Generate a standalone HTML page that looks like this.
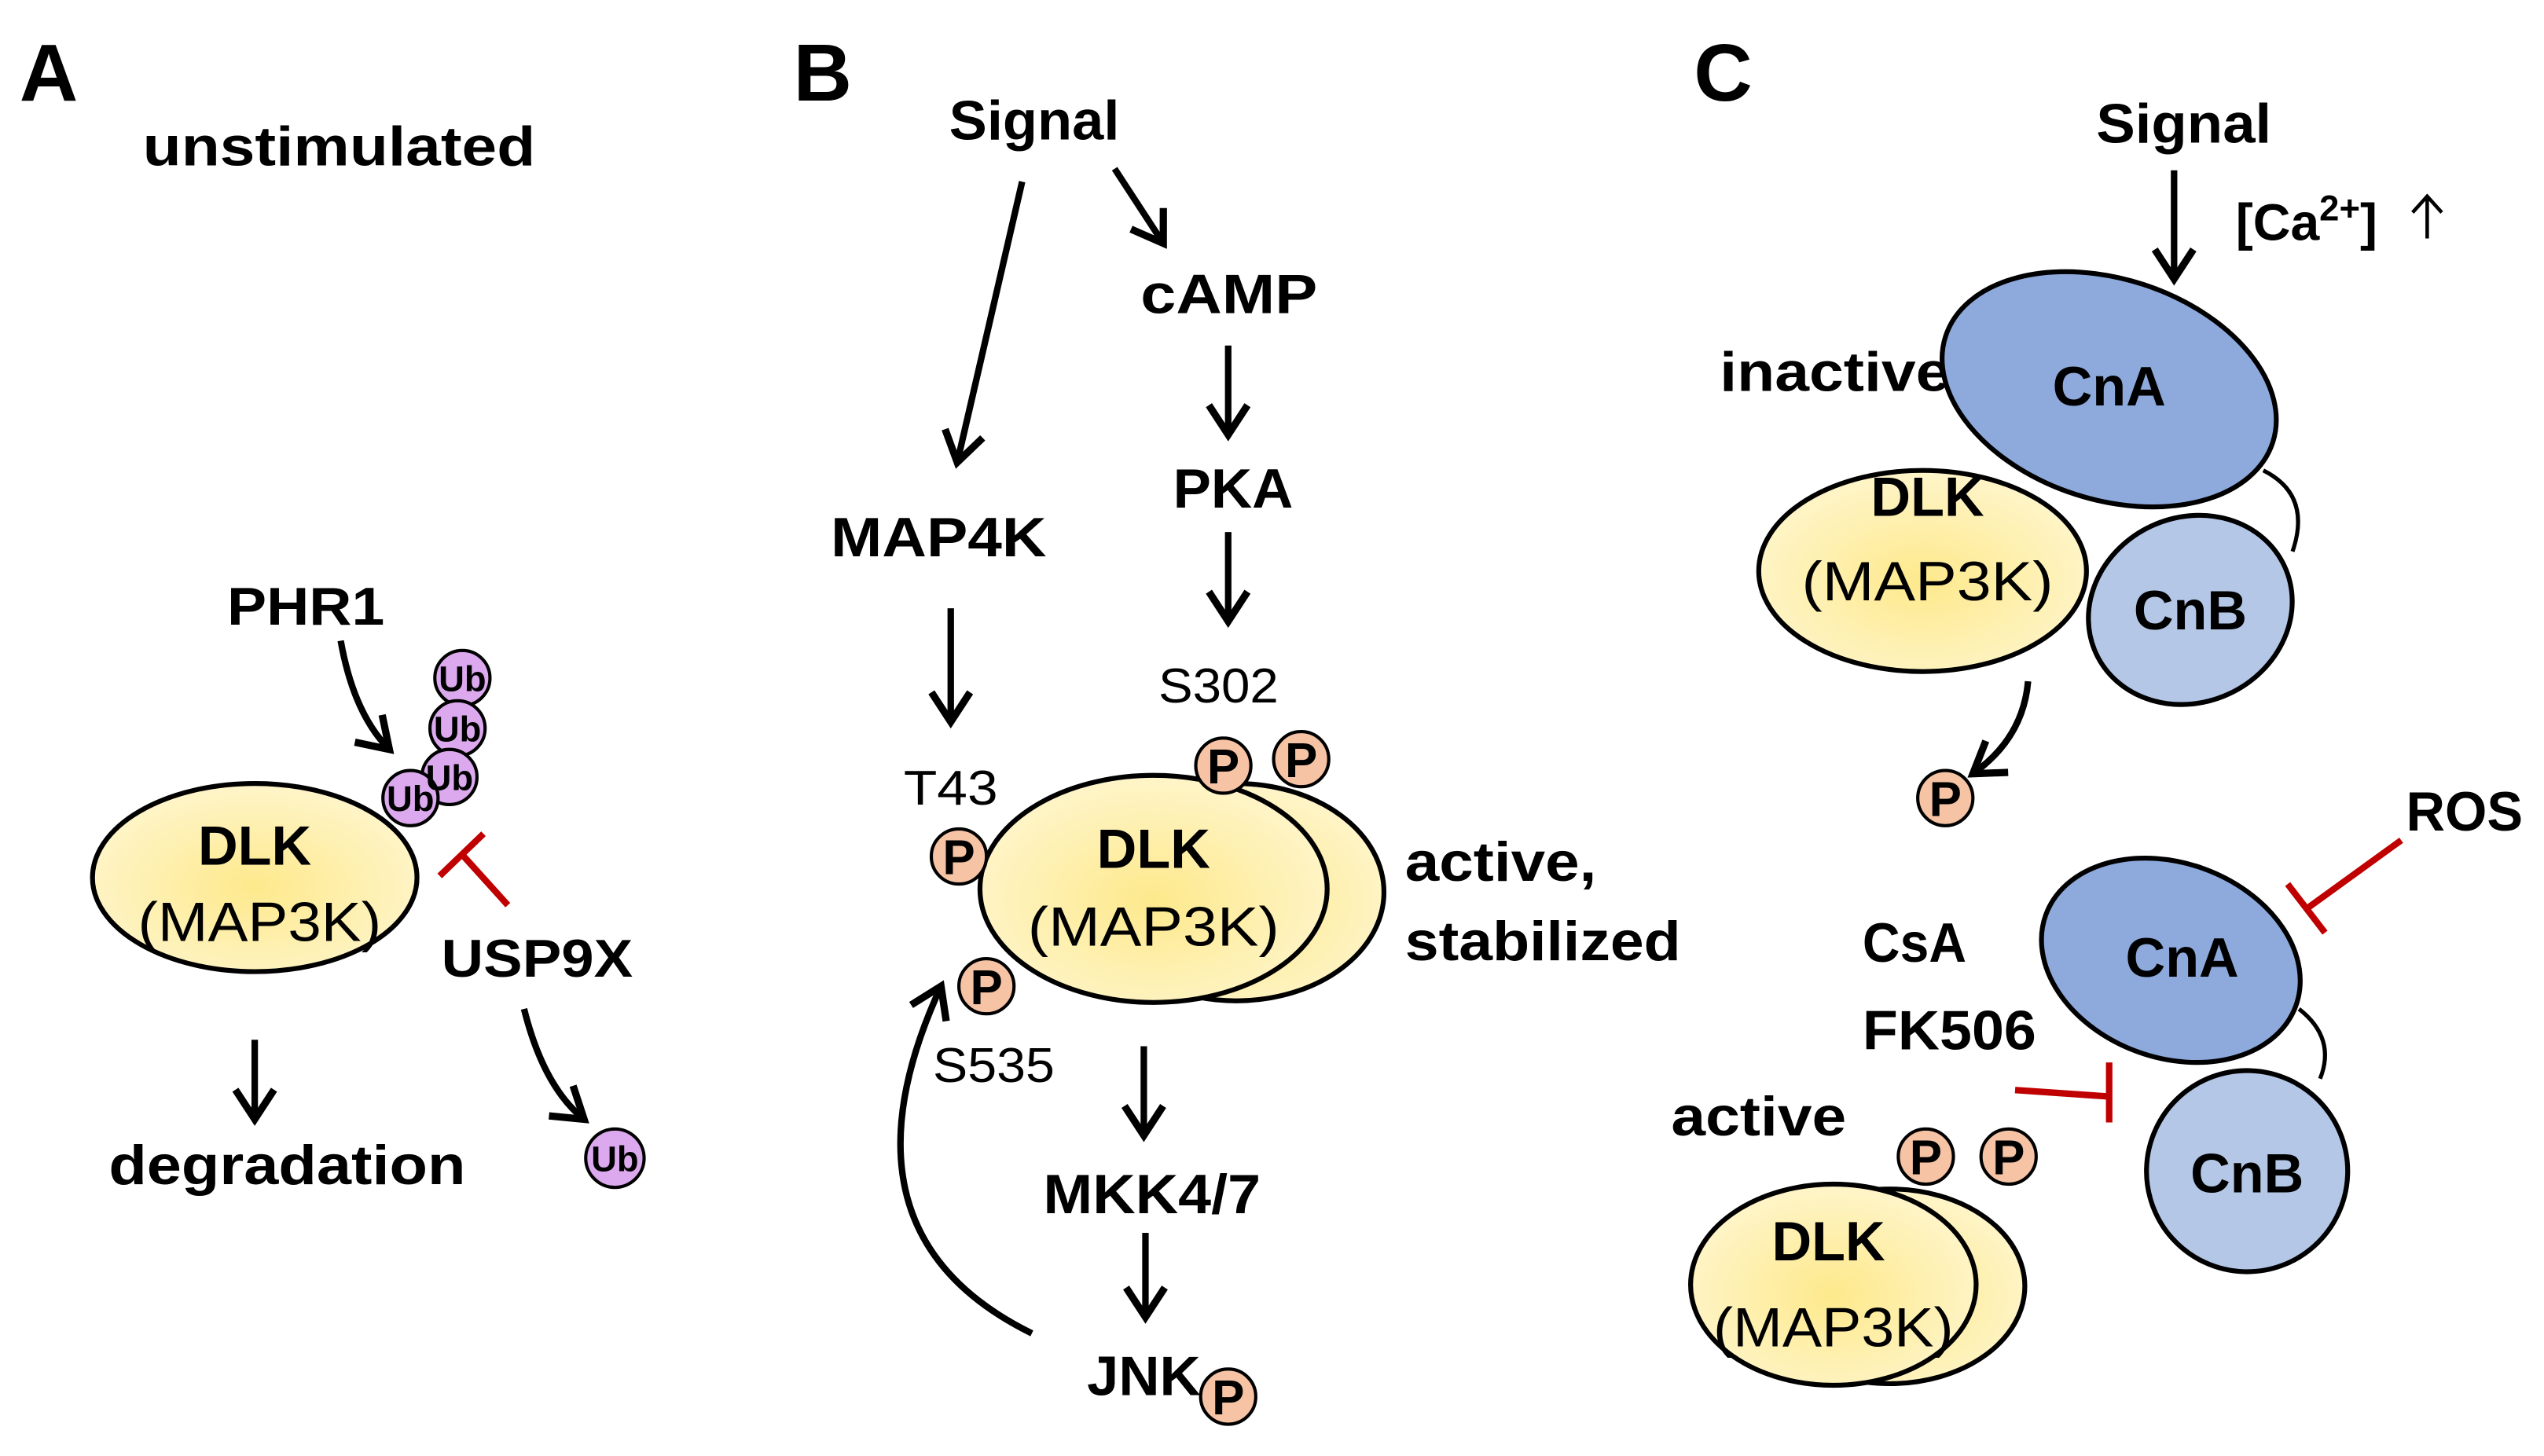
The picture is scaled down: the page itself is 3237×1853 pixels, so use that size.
<!DOCTYPE html>
<html><head><meta charset="utf-8"><style>
html,body{margin:0;padding:0;background:#fff}
svg{display:block}
text{font-family:"Liberation Sans",sans-serif}
.b{font-weight:bold;fill:#000}
</style></head><body>
<svg width="3237" height="1853" viewBox="0 0 1568 897.6" preserveAspectRatio="none" xmlns="http://www.w3.org/2000/svg">
<defs>
<marker id="ah2" viewBox="0 0 20 20" refX="16" refY="10" markerWidth="28" markerHeight="28" markerUnits="userSpaceOnUse" orient="auto" overflow="visible">
<polyline points="3,1.5 16,10 3,18.5" fill="none" stroke="#000" stroke-width="3.2"/>
</marker>
<radialGradient id="yg" cx="50%" cy="55%" r="60%">
<stop offset="0" stop-color="#fde98c"/><stop offset="1" stop-color="#fff6cf"/>
</radialGradient>
</defs>
<g stroke="#000" stroke-width="4" fill="none" marker-end="url(#ah2)">
<path d="M210,395 Q218,440 240,462"/>
<line x1="157" y1="641" x2="157" y2="690"/>
<path d="M323,622 Q335,670 360,690"/>
<line x1="630" y1="112" x2="590" y2="285"/>
<line x1="687" y1="104" x2="717" y2="150"/>
<line x1="757" y1="213" x2="757" y2="268"/>
<line x1="757" y1="328" x2="757" y2="383"/>
<line x1="586" y1="375" x2="586" y2="445"/>
<line x1="705" y1="645" x2="705" y2="700"/>
<line x1="706" y1="760" x2="706" y2="812"/>
<path d="M636,822 Q510,760 580,608"/>
<line x1="1340" y1="105" x2="1340" y2="172"/>
<path d="M1250,420 Q1247,455 1216,477"/>
</g>
<text x="12" y="62" class="b" font-size="50">A</text>
<text x="489" y="62" class="b" font-size="50">B</text>
<text x="1044" y="62" class="b" font-size="50">C</text>
<!-- Panel A -->
<text x="88" y="102" class="b" font-size="34" textLength="242" lengthAdjust="spacingAndGlyphs">unstimulated</text>
<text x="140" y="385" class="b" font-size="33" textLength="97" lengthAdjust="spacingAndGlyphs">PHR1</text>
<ellipse cx="157" cy="541" rx="100" ry="58" fill="url(#yg)" stroke="#000" stroke-width="3"/>
<text x="157" y="533" class="b" font-size="34" text-anchor="middle">DLK</text>
<text x="160" y="580" font-size="34" text-anchor="middle" textLength="150" lengthAdjust="spacingAndGlyphs">(MAP3K)</text>
<g stroke="#000" stroke-width="2" fill="#dca9ee">
<circle cx="285" cy="418" r="17"/><circle cx="282" cy="449" r="17"/><circle cx="277" cy="479" r="17"/><circle cx="253" cy="492" r="17"/>
<circle cx="379" cy="714" r="18"/>
</g>
<g font-size="22" text-anchor="middle">
<text x="285" y="426" class="b">Ub</text><text x="282" y="457" class="b">Ub</text><text x="277" y="487" class="b">Ub</text><text x="253" y="500" class="b">Ub</text><text x="379" y="722" class="b">Ub</text>
</g>
<g stroke="#c00000" stroke-width="4">
<line x1="313" y1="558" x2="285" y2="527"/>
<line x1="271" y1="540" x2="298" y2="514"/>
</g>
<text x="272" y="602" class="b" font-size="33" textLength="118" lengthAdjust="spacingAndGlyphs">USP9X</text>
<text x="67" y="730" class="b" font-size="34" textLength="220" lengthAdjust="spacingAndGlyphs">degradation</text>
<!-- Panel B -->
<text x="585" y="86" class="b" font-size="34" textLength="105" lengthAdjust="spacingAndGlyphs">Signal</text>
<text x="703" y="193" class="b" font-size="34" textLength="109" lengthAdjust="spacingAndGlyphs">cAMP</text>
<text x="723" y="313" class="b" font-size="34" textLength="74" lengthAdjust="spacingAndGlyphs">PKA</text>
<text x="512" y="343" class="b" font-size="34" textLength="133" lengthAdjust="spacingAndGlyphs">MAP4K</text>
<text x="714" y="433" font-size="30" textLength="74" lengthAdjust="spacingAndGlyphs">S302</text>
<text x="557" y="496" font-size="30" textLength="58" lengthAdjust="spacingAndGlyphs">T43</text>
<text x="575" y="667" font-size="30" textLength="75" lengthAdjust="spacingAndGlyphs">S535</text>
<ellipse cx="762" cy="550" rx="91" ry="67" fill="url(#yg)" stroke="#000" stroke-width="3"/>
<ellipse cx="711" cy="548" rx="107" ry="70" fill="url(#yg)" stroke="#000" stroke-width="3"/>
<text x="711" y="535" class="b" font-size="34" text-anchor="middle">DLK</text>
<text x="711" y="583" font-size="34" text-anchor="middle" textLength="155" lengthAdjust="spacingAndGlyphs">(MAP3K)</text>
<text x="866" y="543" class="b" font-size="34" textLength="118" lengthAdjust="spacingAndGlyphs">active,</text>
<text x="866" y="592" class="b" font-size="34" textLength="170" lengthAdjust="spacingAndGlyphs">stabilized</text>
<text x="643" y="748" class="b" font-size="34" textLength="134" lengthAdjust="spacingAndGlyphs">MKK4/7</text>
<text x="670" y="860" class="b" font-size="34" textLength="70" lengthAdjust="spacingAndGlyphs">JNK</text>
<!-- Panel C -->
<text x="1292" y="88" class="b" font-size="34" textLength="108" lengthAdjust="spacingAndGlyphs">Signal</text>
<text x="1378" y="148" class="b" font-size="32">[Ca<tspan font-size="22" dy="-12">2+</tspan><tspan dy="12">]</tspan></text>
<g stroke="#000" stroke-width="2.2" fill="none">
<line x1="1496" y1="147" x2="1496" y2="122"/><polyline points="1487,131 1496,121 1505,131"/>
</g>
<text x="1060" y="241" class="b" font-size="34" textLength="142" lengthAdjust="spacingAndGlyphs">inactive</text>
<path d="M1395,290 Q1425,305 1413,340" fill="none" stroke="#000" stroke-width="2.5"/>
<ellipse cx="1300" cy="240" rx="106" ry="68" transform="rotate(18 1300 240)" fill="#8eaadc" stroke="#000" stroke-width="3"/>
<ellipse cx="1350" cy="376" rx="64" ry="57" transform="rotate(-25 1350 376)" fill="#b4c7e7" stroke="#000" stroke-width="3"/>
<ellipse cx="1185" cy="352" rx="101" ry="62" fill="url(#yg)" stroke="#000" stroke-width="3"/>
<text x="1300" y="250" class="b" font-size="34" text-anchor="middle">CnA</text>
<text x="1350" y="388" class="b" font-size="34" text-anchor="middle">CnB</text>
<text x="1188" y="318" class="b" font-size="34" text-anchor="middle">DLK</text>
<text x="1188" y="370" font-size="34" text-anchor="middle" textLength="155" lengthAdjust="spacingAndGlyphs">(MAP3K)</text>
<text x="1483" y="512" class="b" font-size="34" textLength="72" lengthAdjust="spacingAndGlyphs">ROS</text>
<path d="M1417,622 Q1440,640 1430,665" fill="none" stroke="#000" stroke-width="2.5"/>
<ellipse cx="1338" cy="592" rx="82" ry="60" transform="rotate(20 1338 592)" fill="#8eaadc" stroke="#000" stroke-width="3"/>
<ellipse cx="1385" cy="722" rx="62" ry="62" transform="rotate(-20 1385 722)" fill="#b4c7e7" stroke="#000" stroke-width="3"/>
<text x="1345" y="602" class="b" font-size="34" text-anchor="middle">CnA</text>
<text x="1385" y="735" class="b" font-size="34" text-anchor="middle">CnB</text>
<g stroke="#c00000" stroke-width="4">
<line x1="1480" y1="518" x2="1422" y2="560"/>
<line x1="1410" y1="545" x2="1433" y2="575"/>
<line x1="1242" y1="672" x2="1300" y2="676"/>
<line x1="1300" y1="655" x2="1300" y2="692"/>
</g>
<text x="1148" y="593" class="b" font-size="34" textLength="64" lengthAdjust="spacingAndGlyphs">CsA</text>
<text x="1148" y="647" class="b" font-size="34" textLength="107" lengthAdjust="spacingAndGlyphs">FK506</text>
<text x="1030" y="700" class="b" font-size="34" textLength="108" lengthAdjust="spacingAndGlyphs">active</text>
<ellipse cx="1165" cy="793" rx="83" ry="60" fill="url(#yg)" stroke="#000" stroke-width="3"/>
<ellipse cx="1130" cy="792" rx="88" ry="62" fill="url(#yg)" stroke="#000" stroke-width="3"/>
<text x="1127" y="777" class="b" font-size="34" text-anchor="middle">DLK</text>
<text x="1130" y="830" font-size="34" text-anchor="middle" textLength="148" lengthAdjust="spacingAndGlyphs">(MAP3K)</text>
<g stroke="#000" stroke-width="2" fill="#f6c3a5">
<circle cx="591" cy="528" r="17"/><circle cx="754" cy="472" r="17"/><circle cx="802" cy="468" r="17"/><circle cx="608" cy="608" r="17"/><circle cx="757" cy="861" r="17"/>
<circle cx="1199" cy="492" r="17"/><circle cx="1187" cy="713" r="17"/><circle cx="1238" cy="713" r="17"/>
</g>
<g font-size="30" text-anchor="middle">
<text x="591" y="539" class="b">P</text><text x="754" y="483" class="b">P</text><text x="802" y="479" class="b">P</text><text x="608" y="619" class="b">P</text><text x="757" y="872" class="b">P</text>
<text x="1199" y="503" class="b">P</text><text x="1187" y="724" class="b">P</text><text x="1238" y="724" class="b">P</text>
</g>
</svg>
</body></html>
